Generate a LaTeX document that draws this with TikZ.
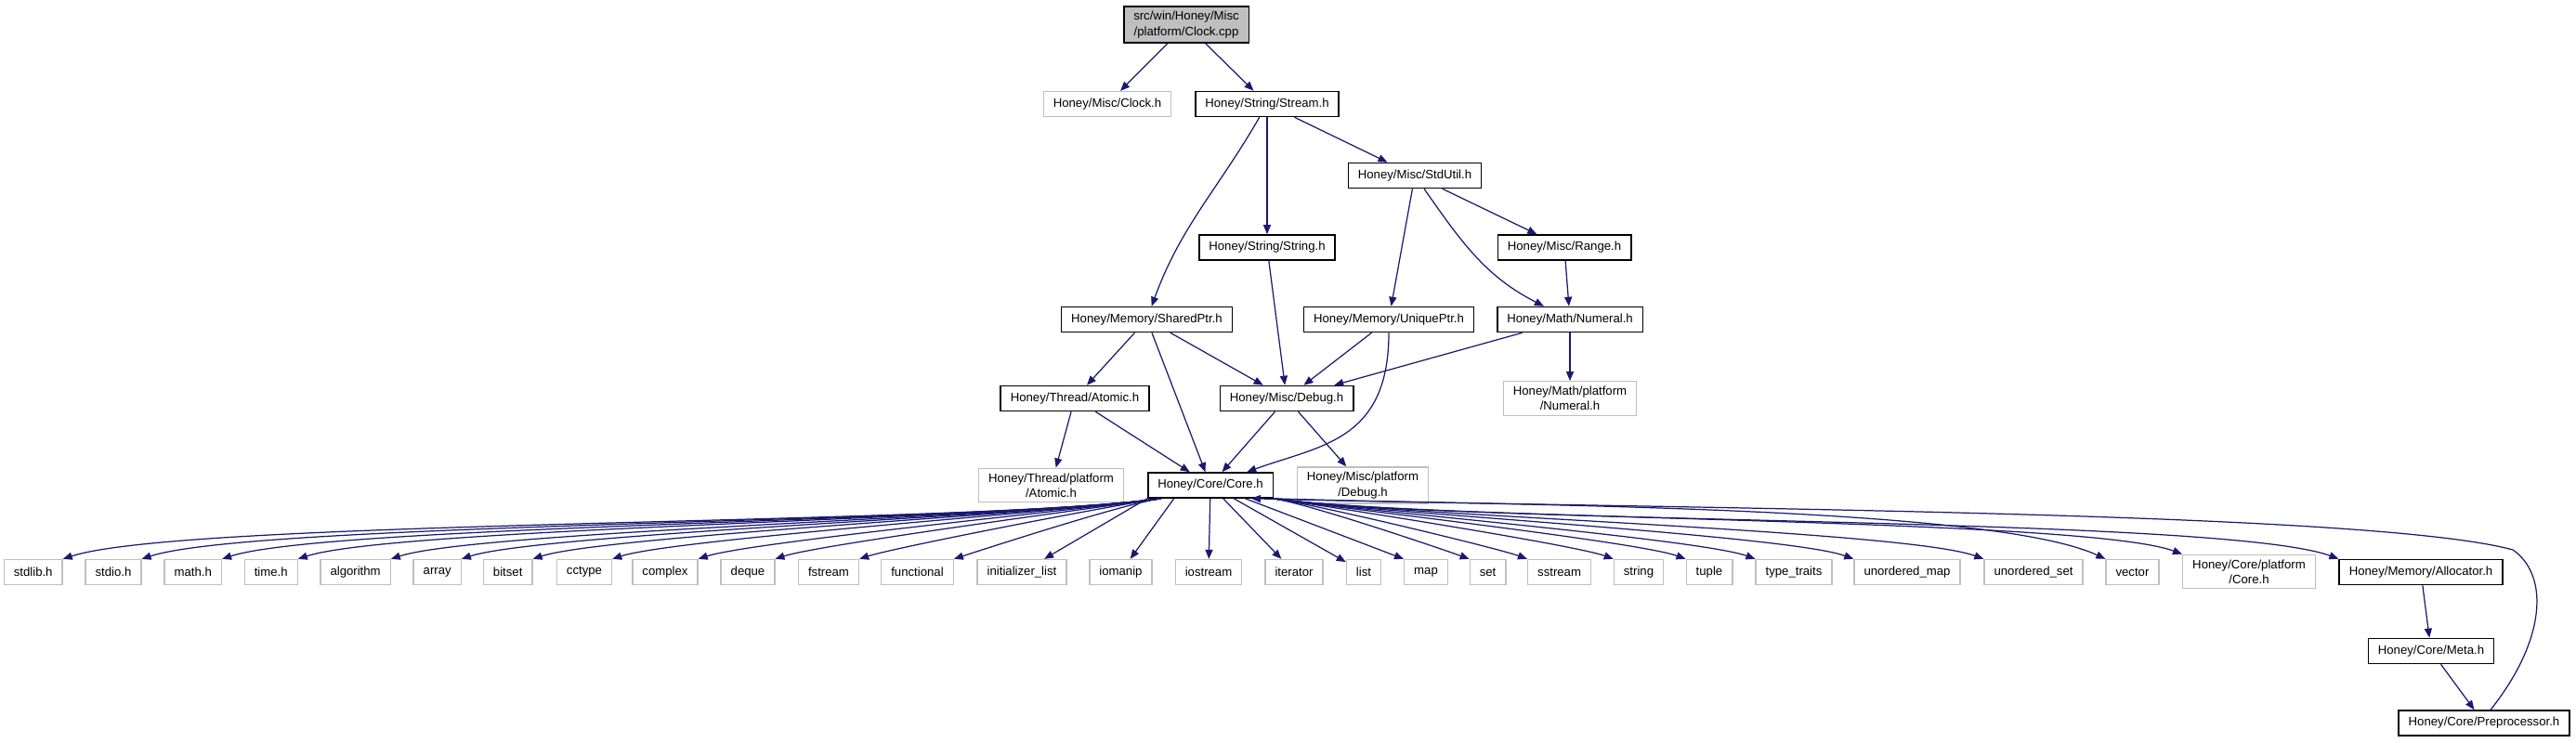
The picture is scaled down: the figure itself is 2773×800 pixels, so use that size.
\documentclass[tikz,border=0pt]{standalone}
\usepackage{fontspec}
\setmainfont{Liberation Sans}
\usetikzlibrary{arrows.meta}
\definecolor{edgeblue}{HTML}{191970}
\definecolor{extgray}{HTML}{BFBFBF}
\tikzset{
  doc/.style={draw=black, line width=0.9pt, fill=white, inner xsep=6pt, inner ysep=3pt,
    minimum height=0.54cm, font=\fontsize{7.5}{9.3}\selectfont, align=center},
  ext/.style={doc, draw=extgray, line width=0.75pt},
  rootfile/.style={doc, fill=extgray},
  inc/.style={->, draw=edgeblue, line width=0.7pt},
  lcurve/.style={inc, out=188, in=18, out looseness=0.45, in looseness=0.3},
  rcurve/.style={inc, out=-8, in=160, out looseness=0.45, in looseness=0.3},
}
\begin{document}
\begin{tikzpicture}[x=0.02cm, y=0.02cm, >={Triangle[length=5.7pt,width=4.6pt]}]
    \useasboundingbox (0,0) rectangle (2773,800);

    % source file and its headers
    \node[rootfile] (root) at (1277,773.5) {src/win/Honey/Misc\\/platform/Clock.cpp};
    \node[ext] (clock) at (1192,688) {Honey/Misc/Clock.h};
    \node[doc] (stream) at (1364,688) {Honey/String/Stream.h};
    \node[doc] (stdutil) at (1523,611) {Honey/Misc/StdUtil.h};
    \node[doc] (strh) at (1364,533.5) {Honey/String/String.h};
    \node[doc] (range) at (1684,533.5) {Honey/Misc/Range.h};
    \node[doc] (sharedptr) at (1234.5,456) {Honey/Memory/SharedPtr.h};
    \node[doc] (uniqueptr) at (1495,456) {Honey/Memory/UniquePtr.h};
    \node[doc] (numeral) at (1690,456) {Honey/Math/Numeral.h};
    \node[doc] (atomic) at (1157,371) {Honey/Thread/Atomic.h};
    \node[doc] (debug) at (1385,371) {Honey/Misc/Debug.h};
    \node[ext] (numeralpf) at (1690,371) {Honey/Math/platform\\/Numeral.h};
    \node[ext] (atomicpf) at (1131.5,277.5) {Honey/Thread/platform\\/Atomic.h};
    \node[doc] (core) at (1303,277.5) {Honey/Core/Core.h};
    \node[ext] (debugpf) at (1467,277.5) {Honey/Misc/platform\\/Debug.h};

    % std headers
    \node[ext] (stdlib) at (35.7,184) {stdlib.h};
    \node[ext] (stdio) at (122,184) {stdio.h};
    \node[ext] (math) at (207.8,184) {math.h};
    \node[ext] (time) at (291.7,184) {time.h};
    \node[ext] (algorithm) at (382.6,184) {algorithm};
    \node[ext] (array) at (470.7,184) {array};
    \node[ext] (bitset) at (546.7,184) {bitset};
    \node[ext] (cctype) at (629,184) {cctype};
    \node[ext] (complex) at (716,184) {complex};
    \node[ext] (deque) at (805,184) {deque};
    \node[ext] (fstream) at (892,184) {fstream};
    \node[ext] (functional) at (987.5,184) {functional};
    \node[ext] (initlist) at (1100,184) {initializer\_list};
    \node[ext] (iomanip) at (1206.5,184) {iomanip};
    \node[ext] (iostream) at (1301,184) {iostream};
    \node[ext] (iterator) at (1393,184) {iterator};
    \node[ext] (list) at (1468,184) {list};
    \node[ext] (map) at (1535,184) {map};
    \node[ext] (set) at (1601.6,184) {set};
    \node[ext] (sstream) at (1678.6,184) {sstream};
    \node[ext] (stdstring) at (1764,184) {string};
    \node[ext] (tuple) at (1840,184) {tuple};
    \node[ext] (typetraits) at (1931,184) {type\_traits};
    \node[ext] (umap) at (2053,184) {unordered\_map};
    \node[ext] (uset) at (2189,184) {unordered\_set};
    \node[ext] (vector) at (2295.5,184) {vector};
    \node[ext] (corepf) at (2421,184.5) {Honey/Core/platform\\/Core.h};
    \node[doc] (allocator) at (2606,184) {Honey/Memory/Allocator.h};
    \node[doc] (meta) at (2617,99) {Honey/Core/Meta.h};
    \node[doc] (prep) at (2674,21.5) {Honey/Core/Preprocessor.h};
    \coordinate (bend) at (2705,208);

    % upper part
    \draw[inc] (root) -- (clock);
    \draw[inc] (root) -- (stream);
    \draw[inc] (stream) to[out=-120, in=70] (sharedptr);
    \draw[inc] (stream) -- (strh);
    \draw[inc] (stream) -- (stdutil);
    \draw[inc] (stdutil) -- (uniqueptr);
    \draw[inc] (stdutil) to[out=-55, in=153] (numeral);
    \draw[inc] (stdutil) -- (range);
    \draw[inc] (range) -- (numeral);
    \draw[inc] (strh) -- (debug);
    \draw[inc] (sharedptr) -- (atomic);
    \draw[inc] (sharedptr) -- (core);
    \draw[inc] (sharedptr) -- (debug);
    \draw[inc] (uniqueptr) -- (debug);
    \draw[inc] (uniqueptr) to[out=-90, in=20, out looseness=1.4] (core);
    \draw[inc] (numeral) -- (debug);
    \draw[inc] (numeral) -- (numeralpf);
    \draw[inc] (atomic) -- (atomicpf);
    \draw[inc] (atomic) -- (core);
    \draw[inc] (debug) -- (core);
    \draw[inc] (debug) -- (debugpf);

    % Core.h to the left
    \draw[lcurve] (core.195) to (stdlib.north east);
    \draw[lcurve] (core.195) to (stdio.north east);
    \draw[lcurve] (core.195) to (math.north east);
    \draw[lcurve] (core.195) to (time.north east);
    \draw[lcurve] (core.195) to (algorithm.north east);
    \draw[lcurve] (core.195) to (array.north east);
    \draw[lcurve] (core.195) to (bitset.north east);
    \draw[lcurve] (core.195) to (cctype.north east);
    \draw[lcurve] (core.195) to (complex.north east);
    \draw[lcurve] (core.195) to (deque.north east);
    \draw[lcurve] (core.195) to (fstream.north east);
    \draw[lcurve] (core.195) to (functional.north east);
    % straight down
    \draw[inc] (core.south west) -- (initlist);
    \draw[inc] (core.200) -- (iomanip);
    \draw[inc] (core) -- (iostream);
    \draw[inc] (core) -- (iterator);
    \draw[inc] (core) -- (list);
    \draw[inc] (core) -- (map.north west);
    % Core.h to the right
    \draw[rcurve] (core.-12) to (set.north west);
    \draw[rcurve] (core.-12) to (sstream.north west);
    \draw[rcurve] (core.-12) to (stdstring.north west);
    \draw[rcurve] (core.-12) to (tuple.north west);
    \draw[rcurve] (core.-12) to (typetraits.north west);
    \draw[rcurve] (core.-12) to (umap.north west);
    \draw[rcurve] (core.-12) to (uset.north west);
    \draw[inc] (core.-12) to[out=-2, in=155, out looseness=0.6, in looseness=0.4] (vector.north west);
    \draw[rcurve] (core.-12) to (corepf.north west);
    \draw[rcurve] (core.-12) to (allocator.north west);

    % allocator chain and the way back
    \draw[inc] (allocator) -- (meta);
    \draw[inc] (meta) -- (prep);
    \draw[inc, <-] (core.-18) .. controls (1800,252) and (2550,250) .. (bend)
        .. controls (2745,180) and (2740,110) .. ([xshift=4pt]prep.north);
\end{tikzpicture}
\end{document}
